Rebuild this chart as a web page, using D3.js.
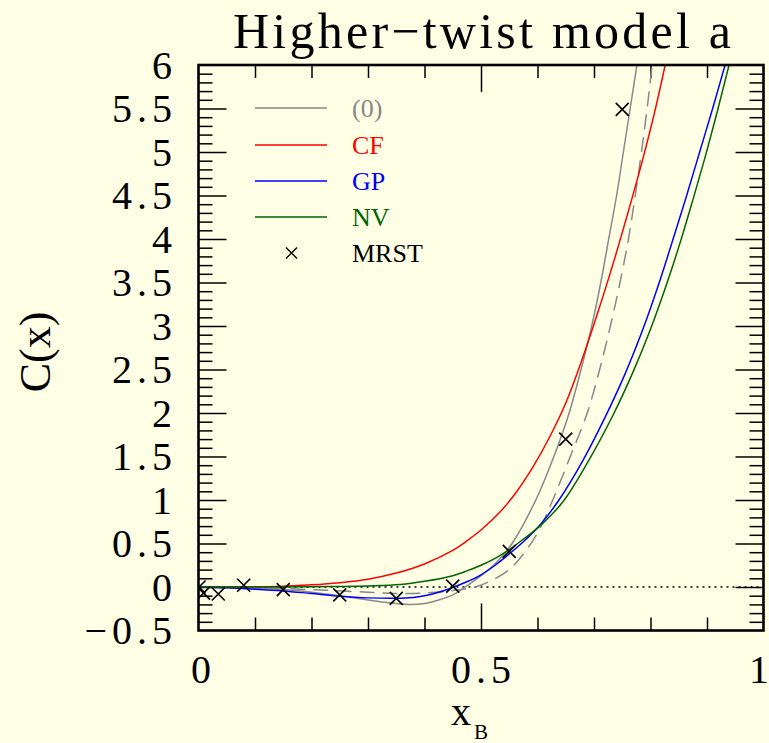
<!DOCTYPE html>
<html>
<head>
<meta charset="utf-8">
<script src="https://cdn.jsdelivr.net/npm/d3@7"></script>
<style>
html, body { margin: 0; padding: 0; background: #ffffe6; }
svg { display: block; }
</style>
</head>
<body>
<svg id="chart" width="769" height="743"></svg>
<script>
// values
const grayX = [0, 0.05, 0.1, 0.15, 0.2, 0.25, 0.3, 0.35, 0.375, 0.4, 0.425, 0.45, 0.472, 0.5, 0.53, 0.555, 0.597, 0.629, 0.656, 0.677, 0.696, 0.712, 0.726, 0.74, 0.752, 0.764, 0.776];
const grayY = [0, -0.005, -0.015, -0.03, -0.06, -0.1, -0.15, -0.19, -0.2, -0.19, -0.15, -0.09, 0, 0.13, 0.3, 0.5, 1, 1.5, 2, 2.5, 3, 3.5, 4, 4.5, 5, 5.5, 6];

const dashX = [0, 0.1, 0.2, 0.3, 0.35, 0.4, 0.45, 0.49, 0.52, 0.55, 0.575, 0.6, 0.627, 0.658, 0.688, 0.71, 0.729, 0.746, 0.761, 0.773, 0.784, 0.794, 0.803];
const dashY = [0, -0.01, -0.03, -0.06, -0.075, -0.07, -0.04, 0, 0.08, 0.2, 0.38, 0.62, 1, 1.5, 2, 2.5, 3, 3.5, 4, 4.5, 5, 5.5, 6];

const redX = [0, 0.05, 0.1, 0.15, 0.2, 0.25, 0.3, 0.35, 0.4, 0.45, 0.475, 0.5, 0.534, 0.563, 0.592, 0.622, 0.651, 0.677, 0.706, 0.734, 0.76, 0.786, 0.807, 0.826];
const redY = [0, 0, 0.003, 0.01, 0.025, 0.05, 0.09, 0.16, 0.265, 0.42, 0.53, 0.655, 0.865, 1.095, 1.38, 1.73, 2.13, 2.58, 3.14, 3.72, 4.3, 4.91, 5.45, 6];

const blueX = [0, 0.05, 0.1, 0.15, 0.2, 0.25, 0.3, 0.35, 0.38, 0.4, 0.425, 0.45, 0.475, 0.5, 0.525, 0.55, 0.575, 0.604, 0.638, 0.68, 0.721, 0.755, 0.787, 0.814, 0.84, 0.864, 0.887, 0.91, 0.932];
const blueY = [0, -0.01, -0.025, -0.045, -0.075, -0.105, -0.125, -0.13, -0.12, -0.1, -0.06, -0.005, 0.06, 0.14, 0.25, 0.38, 0.52, 0.71, 1, 1.45, 1.97, 2.45, 2.97, 3.47, 4, 4.5, 5, 5.5, 6];

const greenX = [0, 0.1, 0.2, 0.25, 0.3, 0.357, 0.4, 0.45, 0.475, 0.5, 0.525, 0.55, 0.575, 0.604, 0.645, 0.692, 0.734, 0.769, 0.801, 0.828, 0.853, 0.875, 0.897, 0.918, 0.939];
const greenY = [0, 0, 0.003, 0.006, 0.012, 0.028, 0.065, 0.13, 0.185, 0.25, 0.33, 0.43, 0.55, 0.7, 0.98, 1.47, 1.98, 2.47, 2.98, 3.47, 3.97, 4.45, 4.95, 5.46, 6];

const mrstX = [0.001, 0.009, 0.035, 0.08, 0.15, 0.25, 0.35, 0.45, 0.55, 0.65, 0.75];
const mrstY = [0.0, -0.07, -0.08, 0.02, -0.03, -0.09, -0.13, 0.01, 0.41, 1.7, 5.49];

const xTickLabels = [0, 0.5, 1];
const yTickLabels = [-0.5, 0, 0.5, 1, 1.5, 2, 2.5, 3, 3.5, 4, 4.5, 5, 5.5, 6];

const legendNames = ["(0)", "CF", "GP", "NV", "MRST"];
const legendColors = ["#888888", "#ff0000", "#0000ff", "#006400", "#000000"];

const svg = d3.select("#chart");
const pLeft = 198.5, pRight = 763.5, pTop = 65, pBottom = 630.5;

const x = d3.scaleLinear().domain([0, 1]).range([pLeft, pRight]);
const y = d3.scaleLinear().domain([-0.5, 6]).range([pBottom, pTop]);

const serif = "'Liberation Serif', 'DejaVu Serif', serif";

svg.append("defs").append("clipPath").attr("id", "plot")
    .append("rect")
    .attr("x", pLeft).attr("y", pTop)
    .attr("width", pRight - pLeft).attr("height", pBottom - pTop);

// ticks, minor and major, on all four sides
const xMinor = d3.range(1, 10).map(d => d / 10).filter(d => d !== 0.5);
const xMajor = [0.5];
const yMinor = d3.range(-4, 60).map(d => d / 10).filter(d => Math.abs(d * 2 - Math.round(d * 2)) > 1e-6);
const yMajor = d3.range(0, 12).map(d => d / 2);

function tickAxis(axis, values, size, transform) {
    const g = svg.append("g")
        .attr("transform", transform)
        .call(axis.tickValues(values).tickSize(size).tickFormat(""));
    g.select(".domain").remove();
    g.selectAll("line").attr("stroke", "#000").attr("stroke-width", 1.5);
}
tickAxis(d3.axisBottom(x), xMinor, -13, `translate(0,${pBottom})`);
tickAxis(d3.axisBottom(x), xMajor, -27, `translate(0,${pBottom})`);
tickAxis(d3.axisTop(x), xMinor, -13, `translate(0,${pTop})`);
tickAxis(d3.axisTop(x), xMajor, -27, `translate(0,${pTop})`);
tickAxis(d3.axisLeft(y), yMinor, -14, `translate(${pLeft},0)`);
tickAxis(d3.axisLeft(y), yMajor, -28, `translate(${pLeft},0)`);
tickAxis(d3.axisRight(y), yMinor, -14, `translate(${pRight},0)`);
tickAxis(d3.axisRight(y), yMajor, -28, `translate(${pRight},0)`);

// zero line
svg.append("line")
    .attr("x1", x(0)).attr("x2", x(1))
    .attr("y1", y(0)).attr("y2", y(0))
    .attr("stroke", "#000").attr("stroke-width", 1.5)
    .attr("stroke-dasharray", "2,4");

// curves
const line = d3.line()
    .x(d => x(d[0]))
    .y(d => y(d[1]))
    .curve(d3.curveCatmullRom.alpha(0.5));

const series = [
    {xs: grayX, ys: grayY, color: "#888888", dash: null},
    {xs: dashX, ys: dashY, color: "#888888", dash: "15,8"},
    {xs: redX, ys: redY, color: "#ff0000", dash: null},
    {xs: blueX, ys: blueY, color: "#0000ff", dash: null},
    {xs: greenX, ys: greenY, color: "#006400", dash: null}
];

const plot = svg.append("g").attr("clip-path", "url(#plot)");

series.forEach(function (s) {
    plot.append("path")
        .datum(d3.zip(s.xs, s.ys))
        .attr("d", line)
        .attr("fill", "none")
        .attr("stroke", s.color)
        .attr("stroke-width", 1.5)
        .attr("stroke-dasharray", s.dash);
});

// MRST crosses
function crossPath(cx, cy, r) {
    return "M" + (cx - r) + "," + (cy - r) + "L" + (cx + r) + "," + (cy + r) +
        "M" + (cx - r) + "," + (cy + r) + "L" + (cx + r) + "," + (cy - r);
}
plot.selectAll(".mrst")
    .data(d3.zip(mrstX, mrstY))
    .enter().append("path")
    .attr("class", "mrst")
    .attr("d", d => crossPath(x(d[0]), y(d[1]), 6.5))
    .attr("stroke", "#000")
    .attr("stroke-width", 1.6)
    .attr("fill", "none");

// frame
svg.append("rect")
    .attr("x", pLeft).attr("y", pTop)
    .attr("width", pRight - pLeft).attr("height", pBottom - pTop)
    .attr("fill", "none")
    .attr("stroke", "#000")
    .attr("stroke-width", 2.6);

// tick labels
const fmt = d => String(d).replace("-", "\u2212");
const ls = 5;

svg.selectAll(".ylab")
    .data(yTickLabels)
    .enter().append("text")
    .attr("class", "ylab")
    .attr("x", 172 + ls)
    .attr("y", d => y(d) + 13.5)
    .attr("text-anchor", "end")
    .style("font-family", serif)
    .style("font-size", "40px")
    .style("letter-spacing", ls + "px")
    .text(fmt);

svg.selectAll(".xlab")
    .data(xTickLabels)
    .enter().append("text")
    .attr("class", "xlab")
    .attr("x", d => Math.min(x(d) + ls / 2, 759))
    .attr("y", 683)
    .attr("text-anchor", "middle")
    .style("font-family", serif)
    .style("font-size", "40px")
    .style("letter-spacing", d => (String(d).length > 1 ? ls : 0) + "px")
    .text(fmt);

// title
svg.append("text")
    .attr("x", 233)
    .attr("y", 48)
    .attr("textLength", 498)
    .attr("lengthAdjust", "spacing")
    .style("font-family", serif)
    .style("font-size", "50px")
    .text("Higher\u2212twist model a");

// axis titles
svg.append("text")
    .attr("transform", "translate(50,352) rotate(-90)")
    .attr("text-anchor", "middle")
    .style("font-family", serif)
    .style("font-size", "44px")
    .text("C(x)");

const xt = svg.append("text")
    .attr("x", 451)
    .attr("y", 725)
    .style("font-family", serif)
    .style("font-size", "40px");
xt.append("tspan").text("x");
xt.append("tspan").attr("dy", 14).attr("dx", 3).style("font-size", "21px").text("B");

// legend
const legY = [108, 145, 181, 217, 253];
const legend = svg.append("g");
legendNames.forEach(function (name, i) {
    if (i < 4) {
        legend.append("line")
            .attr("x1", 255).attr("x2", 327)
            .attr("y1", legY[i]).attr("y2", legY[i])
            .attr("stroke", legendColors[i])
            .attr("stroke-width", 1.5);
    } else {
        legend.append("path")
            .attr("d", crossPath(291.5, legY[i], 5.5))
            .attr("stroke", "#000")
            .attr("stroke-width", 1.4);
    }
    legend.append("text")
        .attr("x", 352)
        .attr("y", legY[i] + 8.5)
        .attr("fill", legendColors[i])
        .style("font-family", serif)
        .style("font-size", "26px")
        .text(name);
});
</script>
</body>
</html>
